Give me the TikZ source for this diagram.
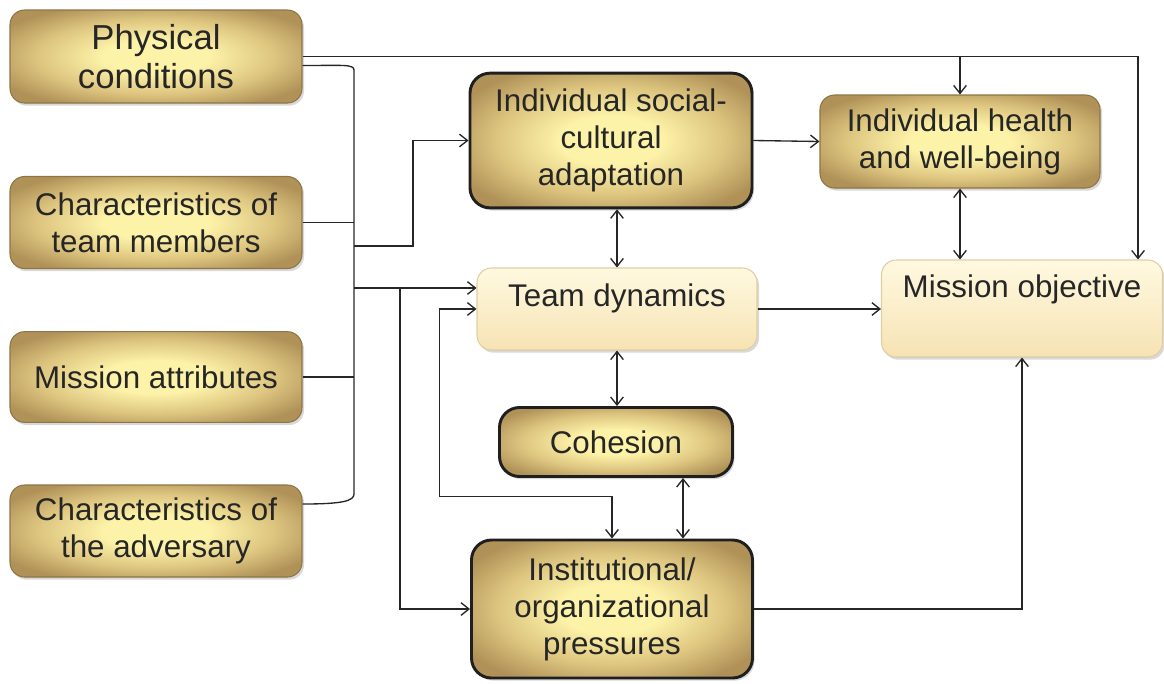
\documentclass[tikz,border=0pt]{standalone}
\usepackage{fontspec}
\setmainfont{Liberation Sans}
\usetikzlibrary{arrows.meta,shadows,calc}

\definecolor{golddk}{RGB}{176,146,88}
\definecolor{goldmd}{RGB}{222,198,128}
\definecolor{goldlt}{RGB}{253,243,168}
\definecolor{creamtp}{RGB}{255,249,224}
\definecolor{creambt}{RGB}{246,227,180}
\definecolor{creamln}{RGB}{224,206,162}
\definecolor{wirecol}{RGB}{38,38,38}

\pgfdeclareradialshading{goldglow}{\pgfpoint{0bp}{0bp}}{color(0bp)=(goldlt); color(9bp)=(goldlt); color(20bp)=(goldmd); color(30bp)=(golddk); color(50bp)=(golddk)}

\tikzset{every picture/.style={line width=0.75pt}}
\tikzset{
  boxfont/.style={font=\fontsize{23.5}{27.75}\selectfont, text=black!85},
  goldbox/.style={boxfont, align=center, inner sep=0pt, rounded corners=11pt,
    shading=goldglow, draw=golddk!80!black, line width=0.8pt,
    drop shadow={opacity=0.3, shadow xshift=1.5pt, shadow yshift=-2pt}},
  goldedge/.style={goldbox, draw=black!88, line width=2.2pt, rounded corners=15pt},
  creambox/.style={boxfont, inner sep=0pt, rounded corners=11pt,
    top color=creamtp, bottom color=creambt, draw=creamln, line width=0.8pt,
    drop shadow={opacity=0.3, shadow xshift=1.5pt, shadow yshift=-2pt}},
  wire/.style={draw=wirecol, line width=1pt},
  arr/.style={wire, -{Straight Barb[length=6pt,width=9.5pt]}},
  dblarr/.style={wire, {Straight Barb[length=6pt,width=9.5pt]}-{Straight Barb[length=6pt,width=9.5pt]}}
}

\begin{document}
\begin{tikzpicture}[x=0.75pt,y=0.75pt,yscale=-1,xscale=1]
\useasboundingbox (0,0) rectangle (1164,683);

%Shape: left column
\node [goldbox, minimum width=219pt, minimum height=69.75pt, font=\fontsize{26}{29}\selectfont] (phys) at (156,56.5) {Physical\\conditions};
\node [goldbox, minimum width=219pt, minimum height=69pt] (memb) at (156,222.5) {Characteristics of\\team members};
\node [goldbox, minimum width=219pt, minimum height=68pt] (attr) at (156,377) {Mission attributes};
\node [goldbox, minimum width=219pt, minimum height=69pt] (adv) at (156,531) {Characteristics of\\the adversary};

%Shape: middle column
\node [goldedge, minimum width=211.5pt, minimum height=101pt] (soc) at (611,140.5) {Individual social-\\cultural\\adaptation};
\node [creambox, minimum width=210pt, minimum height=61.5pt, text depth=21.5pt] (td) at (617,309) {Team dynamics};
\node [goldedge, minimum width=174.75pt, minimum height=51.75pt] (coh) at (616,442) {Cohesion};
\node [goldedge, minimum width=210.75pt, minimum height=103.5pt] (inst) at (612,609) {Institutional/\\organizational\\pressures};

%Shape: right column
\node [goldbox, minimum width=210pt, minimum height=69.75pt] (hlth) at (960,141.5) {Individual health\\and well-being};
\node [creambox, minimum width=210.75pt, minimum height=72.75pt, text depth=33pt] (mo) at (1022,308.5) {Mission objective};

%Bus on the left
\coordinate (bus) at (354,70);
\draw [wire] ($(phys.east)+(0,9)$) .. controls ($(phys.east)+(40,9)$) and (354,64) .. (bus) -- (354,494)
  .. controls (354,501) and ($(adv.east)+(40,-27)$) .. ($(adv.east)+(0,-27)$);
\draw [wire] (memb.east) -- (memb.east -| bus);
\draw [wire] (attr.east) -- (attr.east -| bus);

%Straight Lines
\draw [arr] (354,246) -- (413,246) |- (soc.west);
\draw [arr] (354,288) -- ($(td.west)+(0,-21)$);
\draw [arr] (400,288) |- (inst.west);
\draw [dblarr] (td.west) -- ++(-37,0) |- ($(inst.north)+(0,-42)$) -- (inst.north);
\draw [arr] (soc.east) -- (hlth.west);
\draw [dblarr] (td.north |- soc.south) -- (td.north);
\draw [dblarr] (td.south) -- (td.south |- coh.north);
\coordinate (cohx) at ($(coh.south)+(67,0)$);
\draw [dblarr] (cohx) -- (cohx |- inst.north);
\draw [arr] (td.east) -- (td.east -| mo.west);
\draw [dblarr] (hlth.south) -- (hlth.south |- mo.north);
\draw [arr] (inst.east) -| (mo.south);
\draw [arr] (phys.east) -| ($(mo.north east)+(-25,0)$);
\draw [arr] (hlth.north |- phys.east) -- (hlth.north);

\end{tikzpicture}
\end{document}
